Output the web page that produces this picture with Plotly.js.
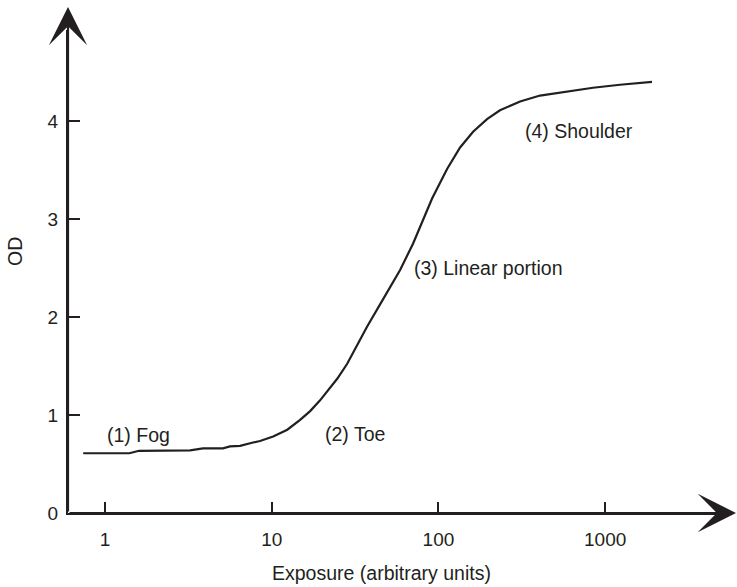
<!DOCTYPE html>
<html>
<head>
<meta charset="utf-8">
<script src="https://cdn.plot.ly/plotly-3.0.1.min.js"></script>
<style>
html,body{margin:0;padding:0;background:#fff;}
#chart{width:737px;height:587px;}
</style>
</head>
<body>
<div id="chart"></div>
<script>
// Characteristic (H&D) curve: optical density vs exposure
var exposure = [0.74, 1.0, 1.4, 1.6, 2.2, 2.82, 3.24, 3.87, 5.1, 5.62, 6.46, 7.73, 8.51, 10.2, 12.4, 14.8, 17.0, 19.5, 21.5, 24.7, 28.3, 32.5, 37.3, 46.5, 58.9, 70.5, 80.9, 91.6, 112.7, 134.9, 161.4, 195.7, 234, 309, 407, 591, 846, 1228, 1911];
var od = [0.61, 0.61, 0.61, 0.635, 0.635, 0.635, 0.64, 0.66, 0.66, 0.68, 0.685, 0.72, 0.735, 0.78, 0.85, 0.95, 1.04, 1.15, 1.24, 1.37, 1.52, 1.71, 1.90, 2.18, 2.48, 2.75, 2.99, 3.21, 3.51, 3.73, 3.89, 4.02, 4.11, 4.20, 4.26, 4.30, 4.34, 4.37, 4.40];
var xTickVals = [1, 10, 100, 1000];
var xTickText = ['1', '10', '100', '1000'];
var yTickVals = [0, 1, 2, 3, 4];
var yTickText = ['0', '1', '2', '3', '4'];
var regionLabels = ['(1) Fog', '(2) Toe', '(3) Linear portion', '(4) Shoulder'];
var regionX = [1.0, 20.3, 69.5, 322];
var regionY = [0.80, 0.81, 2.50, 3.90];

var ink = '#231f20';
var font = 'Liberation Sans, Arial, Helvetica, sans-serif';
var fs = 19.5;

var trace = {
  x: exposure, y: od, type: 'scatter', mode: 'lines',
  line: {color: ink, width: 2.2, shape: 'linear'},
  hoverinfo: 'skip', showlegend: false
};

var annotations = regionLabels.map(function(t, i){
  return {text: t, x: Math.log10(regionX[i]), y: regionY[i], xref: 'x', yref: 'y',
    xanchor: 'left', yanchor: 'middle', showarrow: false,
    font: {family: font, size: fs, color: ink}};
});
// axis arrows
annotations.push({x: (737-68)/650, y: 0, xref: 'paper', yref: 'paper', ax: -669, ay: 0,
  axref: 'pixel', ayref: 'pixel', text: '', showarrow: true, arrowhead: 3, arrowsize: 2.9,
  arrowwidth: 2.2, arrowcolor: ink});
annotations.push({x: 0, y: (513-7)/483, xref: 'paper', yref: 'paper', ax: 0, ay: 506,
  axref: 'pixel', ayref: 'pixel', text: '', showarrow: true, arrowhead: 3, arrowsize: 2.9,
  arrowwidth: 2.2, arrowcolor: ink});
// axis titles
annotations.push({text: 'Exposure (arbitrary units)', x: (381-68)/650, y: -(573-513)/483,
  xref: 'paper', yref: 'paper', showarrow: false, xanchor: 'center', yanchor: 'middle',
  font: {family: font, size: fs, color: ink}});
annotations.push({text: 'OD', x: -(68-15)/650, y: (513-252)/483, textangle: -90,
  xref: 'paper', yref: 'paper', showarrow: false, xanchor: 'center', yanchor: 'middle',
  font: {family: font, size: fs, color: ink}});

var layout = {
  width: 737, height: 587,
  margin: {l: 68, r: 19, t: 30, b: 74, pad: 0},
  paper_bgcolor: '#fff', plot_bgcolor: '#fff',
  font: {family: font, size: 19, color: ink},
  xaxis: {type: 'log', range: [-0.222, 3.677], tickvals: xTickVals, ticktext: xTickText,
    ticks: 'inside', ticklen: 11, tickwidth: 2, tickcolor: ink, ticklabelstandoff: 8,
    showline: true, linewidth: 2.2, linecolor: ink, showgrid: false, zeroline: false,
    tickfont: {family: font, size: 19, color: ink}, fixedrange: true},
  yaxis: {range: [0, 4.929], tickvals: yTickVals, ticktext: yTickText,
    ticks: 'inside', ticklen: 12, tickwidth: 2, tickcolor: ink, ticklabelstandoff: 4,
    showline: true, linewidth: 2.2, linecolor: ink, showgrid: false, zeroline: false,
    tickfont: {family: font, size: 19, color: ink}, fixedrange: true},
  annotations: annotations,
  showlegend: false
};

Plotly.newPlot('chart', [trace], layout, {displayModeBar: false, staticPlot: true});
</script>
</body>
</html>
